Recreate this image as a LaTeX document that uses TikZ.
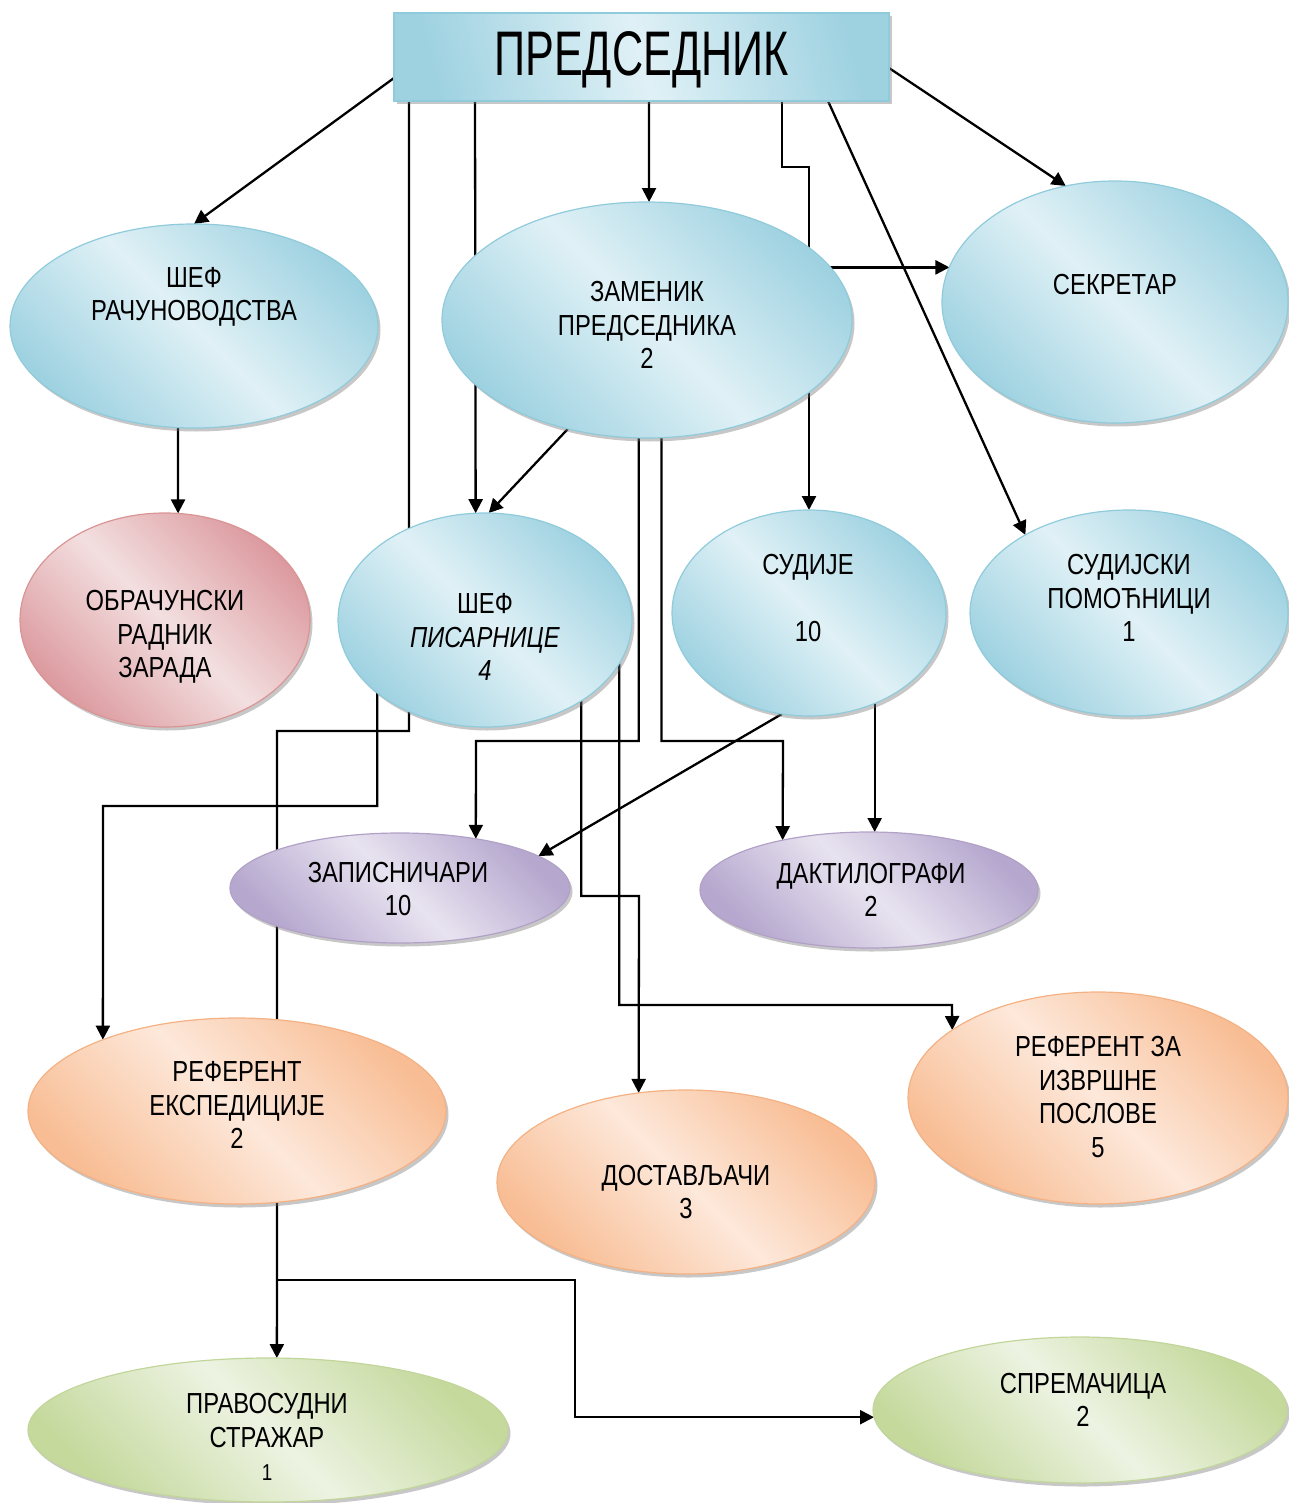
\documentclass[tikz,border=0pt]{standalone}
\usepackage{fontspec}
\setmainfont{Liberation Sans}[FakeStretch=0.82]
\newfontfamily\titlefont{Liberation Sans}[FakeStretch=0.685]
\usetikzlibrary{shapes.geometric,shadows,arrows.meta}
\pgfdeclarelayer{background}
\pgfsetlayers{background,main}
\definecolor{bDark}{HTML}{9FD2E1}
\definecolor{bLight}{HTML}{E0F1F6}
\definecolor{bBord}{HTML}{8FCBDB}
\definecolor{rDark}{HTML}{DC9A9F}
\definecolor{rLight}{HTML}{F3DFE0}
\definecolor{rBord}{HTML}{D99594}
\definecolor{pDark}{HTML}{B5A7CE}
\definecolor{pLight}{HTML}{E8E3F0}
\definecolor{pBord}{HTML}{B2A1C7}
\definecolor{oDark}{HTML}{F8BD94}
\definecolor{oLight}{HTML}{FDE8DA}
\definecolor{oBord}{HTML}{F4B183}
\definecolor{gDark}{HTML}{C5D99D}
\definecolor{gLight}{HTML}{EDF3E2}
\definecolor{gBord}{HTML}{C2D69B}
\begin{document}
\begin{tikzpicture}[x=1pt,y=-1pt,
  shapebase/.style={inner sep=0pt, outer sep=0pt, line width=1.2pt,
    drop shadow={shadow xshift=2.5pt, shadow yshift=-3.5pt, fill=black!55, opacity=0.4}},
  ovalbase/.style={ellipse, shapebase},
  blueoval/.style={ovalbase, draw=bBord, top color=bDark, bottom color=bDark, middle color=bLight, shading angle=-45},
  redoval/.style={ovalbase, draw=rBord, top color=rDark, bottom color=rDark, middle color=rLight, shading angle=-45},
  purpleoval/.style={ovalbase, draw=pBord, top color=pDark, bottom color=pDark, middle color=pLight, shading angle=-45},
  orangeoval/.style={ovalbase, draw=oBord, top color=oDark, bottom color=oDark, middle color=oLight, shading angle=-45},
  greenoval/.style={ovalbase, draw=gBord, top color=gDark, bottom color=gDark, middle color=gLight, shading angle=-45},
  titlebox/.style={rectangle, shapebase, draw=bBord, top color=bDark, bottom color=bDark, middle color=bLight, shading angle=-75},
  txt/.style={align=center, inner sep=0pt, font=\fontsize{29}{33.5}\selectfont},
  arr/.style={line width=2.3pt, -{Triangle[length=14pt,width=14pt]}},
]
\useasboundingbox (0,0) rectangle (1288,1503);

% title
\node[titlebox, minimum width=495pt, minimum height=88pt] (pres) at (641.5,57) {};
\node[txt, font=\titlefont\fontsize{63}{70}\selectfont] (pres-t) at (641.5,59.5) {ПРЕДСЕДНИК};

% ellipses
\node[blueoval, minimum width=368pt, minimum height=204pt] (sefr) at (194,326) {};
\node[blueoval, minimum width=410pt, minimum height=236pt] (zam) at (647,320) {};
\node[blueoval, minimum width=346pt, minimum height=242pt] (sek) at (1115,302) {};
\node[redoval, minimum width=290pt, minimum height=214pt] (obr) at (165,620) {};
\node[blueoval, minimum width=294pt, minimum height=214pt] (sefp) at (485,620) {};
\node[blueoval, minimum width=274pt, minimum height=206pt] (sud) at (809,613) {};
\node[blueoval, minimum width=318pt, minimum height=206pt] (sudp) at (1129,613) {};
\node[purpleoval, minimum width=340pt, minimum height=110pt] (zap) at (400,888) {};
\node[purpleoval, minimum width=338pt, minimum height=116pt] (dakt) at (869,890) {};
\node[orangeoval, minimum width=418pt, minimum height=186pt] (refe) at (237,1111) {};
\node[orangeoval, minimum width=378pt, minimum height=184pt] (dost) at (686,1182) {};
\node[orangeoval, minimum width=380pt, minimum height=212pt] (refi) at (1098,1098) {};
\node[greenoval, minimum width=480pt, minimum height=144pt] (str) at (268,1430) {};
\node[greenoval, minimum width=414pt, minimum height=146pt] (spr) at (1080,1410) {};

% texts
\node[txt] (sefr-t) at (194,297) {ШЕФ\\РАЧУНОВОДСТВА};
\node[txt] (zam-t) at (647,325) {ЗАМЕНИК\\ПРЕДСЕДНИКА\\2};
\node[txt] (sek-t) at (1115,285) {СЕКРЕТАР};
\node[txt] (obr-t) at (165,637) {ОБРАЧУНСКИ\\РАДНИК\\ЗАРАДА};
\node[txt] (sefp-t) at (485,637) {ШЕФ\\\textit{ПИСАРНИЦЕ}\\\textit{4}};
\node[txt] (sud-t) at (808,598) {СУДИЈЕ\\\mbox{}\\10};
\node[txt] (sudp-t) at (1129,598) {СУДИЈСКИ\\ПОМОЋНИЦИ\\1};
\node[txt] (zap-t) at (398,889) {ЗАПИСНИЧАРИ\\10};
\node[txt] (dakt-t) at (871,890) {ДАКТИЛОГРАФИ\\2};
\node[txt] (refe-t) at (237,1105) {РЕФЕРЕНТ\\ЕКСПЕДИЦИЈЕ\\2};
\node[txt] (dost-t) at (686,1192) {ДОСТАВЉАЧИ\\3};
\node[txt] (refi-t) at (1098,1097) {РЕФЕРЕНТ ЗА\\ИЗВРШНЕ\\ПОСЛОВЕ\\5};
\node[txt] (str-t) at (267,1437) {ПРАВОСУДНИ\\СТРАЖАР\\{\fontsize{23}{26}\selectfont 1}};
\node[txt] (spr-t) at (1083,1400) {СПРЕМАЧИЦА\\2};

% bend points
\coordinate (q1) at (277,731);
\coordinate (q2) at (277,1280);
\coordinate (q3) at (575,1280);
\coordinate (r1) at (809,167);
\coordinate (k2) at (476,741);
\coordinate (k3) at (783,741);
\coordinate (m1) at (103,806);
\coordinate (n1) at (639,896);
\coordinate (p1) at (952,1005);

\begin{pgfonlayer}{background}
\draw[arr] ([yshift=-21pt]pres.west) -- (sefr.north);
\draw[arr] ([yshift=-11pt]pres.east) -- (sek.113);
\draw[arr] ([xshift=-232.5pt]pres.south) |- (q1) -- (q2) -- (str.83);
\draw[arr] (q2) -- (q3) |- (spr.182);
\draw[arr] ([xshift=-166.5pt]pres.south) -- (sefp.95);
\draw[arr] ([xshift=7.5pt]pres.south) -- (zam.89);
\draw[arr] ([xshift=140.5pt]pres.south) |- (r1) -- (sud.north);
\draw[arr] ([xshift=186.5pt]pres.south) -- (sudp.143);
\draw[arr] (zam.16) -- (zam.16 -| sek.168);
\draw[arr] (zam.234) -- (sefp.88);
\draw[arr] (zam.266) |- (k2) -- (zap.33);
\draw[arr] (zam.277) |- (k3) -- (dakt.150);
\draw[arr] (sefr.261) -- (obr.83);
\draw[arr] (sud.255) -- (zap.13);
\draw[arr] (sud.306) -- (sud.306 |- dakt.north);
\draw[arr] (sefp.214) |- (m1) -- (refe.152);
\draw[arr] (sefp.320) |- (n1) -- (dost.118);
\draw[arr] (sefp.342) |- (p1) -- (refi.155);
\end{pgfonlayer}
\end{tikzpicture}
\end{document}
